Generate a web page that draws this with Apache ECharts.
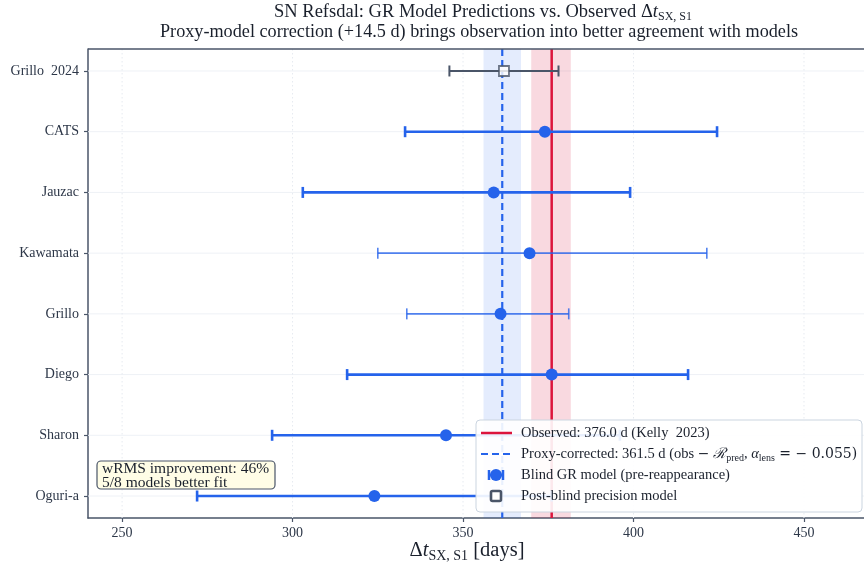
<!DOCTYPE html>
<html><head><meta charset="utf-8">
<script src="https://cdn.jsdelivr.net/npm/echarts@6/dist/echarts.min.js"></script>
<style>html,body{margin:0;padding:0;background:#fff}#c{width:864px;height:567px}</style>
</head><body><div id="c"></div>
<script>
// ---- data (bottom row first) ----
const models      = ['Oguri-a', 'Sharon', 'Diego', 'Grillo', 'Kawamata', 'Jauzac', 'CATS'];
const modelValues = [324, 345, 376, 361, 369.5, 359, 374];
const modelLow    = [272, 294, 316, 333.5, 325, 303, 333];
const modelHigh   = [376, 396, 416, 381, 421.5, 399, 424.5];
const modelThin   = [false, false, false, true, true, false, false];
const postBlindName  = 'Grillo  2024';
const postBlindValue = 362;
const postBlindLow   = 346;
const postBlindHigh  = 378;
const observedValue = 376.0, observedLow = 370.0, observedHigh = 381.6;
const proxyValue = 361.5, proxyLow = 356.0, proxyHigh = 367.0;
const xTicks = [250, 300, 350, 400, 450];
const yLabels = models.concat([postBlindName]);
const yIdx = yLabels.map((_, i) => i);

const FONT = '"Liberation Serif", "DejaVu Serif", serif';
const BLUE = '#2563eb', RED = '#dc143c', SLATE = '#4a5568', INK = '#1a202c';

const chart = echarts.init(document.getElementById('c'), null, {renderer: 'canvas'});

function fullVLine(color, width, dash) {
  return function (params, api) {
    const cs = params.coordSys;
    const p = api.coord([api.value(0), 0]);
    return {type: 'line', shape: {x1: p[0], y1: cs.y, x2: p[0], y2: cs.y + cs.height},
      style: {stroke: color, lineWidth: width, lineDash: dash || null}};
  };
}
function band(color) {
  return function (params, api) {
    const cs = params.coordSys;
    const a = api.coord([api.value(0), 0]);
    const b = api.coord([api.value(1), 0]);
    return {type: 'rect', shape: {x: a[0], y: cs.y, width: b[0] - a[0], height: cs.height},
      style: {fill: color}};
  };
}
function errBar(color, getWidth, getOpacity) {
  return function (params, api) {
    const lo = api.coord([api.value(0), api.value(2)]);
    const hi = api.coord([api.value(1), api.value(2)]);
    const w = getWidth(params.dataIndex), op = getOpacity(params.dataIndex);
    const st = {stroke: color, lineWidth: w, opacity: op};
    return {type: 'group', children: [
      {type: 'line', shape: {x1: lo[0], y1: lo[1], x2: hi[0], y2: hi[1]}, style: st},
      {type: 'line', shape: {x1: lo[0], y1: lo[1] - 5.5, x2: lo[0], y2: lo[1] + 5.5}, style: st},
      {type: 'line', shape: {x1: hi[0], y1: hi[1] - 5.5, x2: hi[0], y2: hi[1] + 5.5}, style: st}
    ]};
  };
}
const subRich = (size, sub, lh) => ({
  a: {fontFamily: FONT, fontSize: size, lineHeight: lh, fill: INK},
  i: {fontFamily: FONT, fontSize: size, fontStyle: 'italic', lineHeight: lh, fill: INK},
  s: {fontFamily: FONT, fontSize: sub, lineHeight: sub + 2, verticalAlign: 'bottom', fill: INK}
});

const option = {
  animation: false,
  backgroundColor: '#ffffff',
  grid: {left: 88, top: 49, bottom: 49, right: 0, show: false},
  xAxis: {
    type: 'value', min: 240, max: 467.6,
    axisLine: {show: true, onZero: false, lineStyle: {color: SLATE, width: 1.5}},
    axisTick: {show: true, length: 4, customValues: xTicks, lineStyle: {color: SLATE, width: 1.2}},
    axisLabel: {customValues: xTicks, margin: 8, fontFamily: FONT, fontSize: 14, color: '#2d3748'},
    splitLine: {show: false}
  },
  yAxis: {
    type: 'value', min: -0.362, max: 7.362,
    axisLine: {show: true, onZero: false, lineStyle: {color: SLATE, width: 1.5}},
    axisTick: {show: true, length: 4, customValues: yIdx, lineStyle: {color: SLATE, width: 1.2}},
    axisLabel: {customValues: yIdx, margin: 9, fontFamily: FONT, fontSize: 14, color: '#2d3748',
      formatter: v => yLabels[Math.round(v)]},
    splitLine: {show: false}
  },
  series: [
    {type: 'custom', z: 1, silent: true, data: yIdx.map(i => [0, i]),
      renderItem: function (params, api) {
        const cs = params.coordSys;
        const p = api.coord([300, api.value(1)]);
        return {type: 'line', shape: {x1: cs.x, y1: p[1], x2: cs.x + cs.width, y2: p[1]},
          style: {stroke: '#eef1f6', lineWidth: 1}};
      }},
    {type: 'custom', z: 1, silent: true, data: xTicks.map(v => [v]),
      renderItem: fullVLine('#e6eaf0', 1, [1.5, 2.5])},
    {type: 'custom', z: 2, silent: true, data: [[proxyLow, proxyHigh]], renderItem: band('rgba(37,99,235,0.12)')},
    {type: 'custom', z: 2, silent: true, data: [[observedLow, observedHigh]], renderItem: band('rgba(220,20,60,0.16)')},
    {type: 'custom', z: 3, silent: true, data: [[proxyValue]], renderItem: fullVLine(BLUE, 2.2, [7, 4])},
    {type: 'custom', z: 3, silent: true, data: [[observedValue]], renderItem: fullVLine(RED, 2.5)},
    {type: 'custom', z: 4, silent: true,
      data: models.map((m, i) => [modelLow[i], modelHigh[i], i]),
      renderItem: errBar(BLUE, i => modelThin[i] ? 1.6 : 2.6, i => modelThin[i] ? 0.8 : 1)},
    {type: 'scatter', z: 5, silent: true, symbol: 'circle', symbolSize: 12,
      itemStyle: {color: BLUE, opacity: 1},
      data: models.map((m, i) => [modelValues[i], i])},
    {type: 'custom', z: 4, silent: true,
      data: [[postBlindLow, postBlindHigh, models.length]],
      renderItem: errBar(SLATE, () => 2, () => 1)},
    {type: 'scatter', z: 5, silent: true, symbol: 'rect', symbolSize: 10,
      itemStyle: {color: '#ffffff', borderColor: SLATE, borderWidth: 1.8},
      data: [[postBlindValue, models.length]]}
  ],
  graphic: [
    // top frame line
    {type: 'line', z: 90, silent: true, shape: {x1: 88, y1: 49, x2: 864, y2: 49}, style: {stroke: SLATE, lineWidth: 1.5}},
    // title
    {type: 'text', x: 483, y: 12, z: 100, silent: true, style: {
      text: '{a|SN Refsdal: GR Model Predictions vs. Observed Δ}{i|t}{s|SX, S1}',
      align: 'center', verticalAlign: 'middle', rich: subRich(18.5, 12, 22)}},
    {type: 'text', x: 479, y: 32, z: 100, silent: true, style: {
      text: 'Proxy-model correction (+14.5 d) brings observation into better agreement with models',
      align: 'center', verticalAlign: 'middle', fontFamily: FONT, fontSize: 18.2, fill: INK}},
    // x axis name
    {type: 'text', x: 467, y: 551, z: 100, silent: true, style: {
      text: '{a|Δ}{i|t}{s|SX, S1}{a| [days]}',
      align: 'center', verticalAlign: 'middle', rich: subRich(20.5, 14, 25)}},
    // stats box
    {type: 'rect', z: 100, silent: true, shape: {x: 97, y: 461, width: 178, height: 28, r: 4},
      style: {fill: 'rgba(255,253,226,0.85)', stroke: SLATE, lineWidth: 1.2}},
    {type: 'text', x: 102, y: 469, z: 101, silent: true, style: {text: 'wRMS improvement: 46%',
      verticalAlign: 'middle', fontFamily: FONT, fontSize: 15.5, fill: INK}},
    {type: 'text', x: 102, y: 483, z: 101, silent: true, style: {text: '5/8 models better fit',
      verticalAlign: 'middle', fontFamily: FONT, fontSize: 15.5, fill: INK}},
    // legend
    {type: 'rect', z: 100, silent: true, shape: {x: 476, y: 420, width: 386, height: 92, r: 4},
      style: {fill: 'rgba(255,255,255,0.9)', stroke: '#cbd5e0', lineWidth: 1}},
    {type: 'line', z: 101, silent: true, shape: {x1: 481, y1: 433, x2: 512, y2: 433}, style: {stroke: RED, lineWidth: 2.5}},
    {type: 'text', x: 521, y: 433, z: 101, silent: true, style: {text: 'Observed: 376.0 d (Kelly  2023)',
      verticalAlign: 'middle', fontFamily: FONT, fontSize: 14.5, fill: INK}},
    {type: 'line', z: 101, silent: true, shape: {x1: 481, y1: 454, x2: 512, y2: 454}, style: {stroke: BLUE, lineWidth: 2.2, lineDash: [7, 4]}},
    {type: 'text', x: 521, y: 454, z: 101, silent: true, style: {
      text: '{a|Proxy-corrected: 361.5 d (obs }{m|−}{i| ℛ}{s|pred}{a|, }{i|α}{s|lens}{m| = − }{m|0.055)}',
      verticalAlign: 'middle',
      rich: Object.assign(subRich(14.5, 10, 18), {m: {fontFamily: '"DejaVu Serif", serif', fontSize: 14, lineHeight: 18, fill: INK}})}},
    {type: 'line', z: 101, silent: true, shape: {x1: 489, y1: 475, x2: 503, y2: 475}, style: {stroke: BLUE, lineWidth: 2.5}},
    {type: 'line', z: 101, silent: true, shape: {x1: 489, y1: 470, x2: 489, y2: 480}, style: {stroke: BLUE, lineWidth: 2.5}},
    {type: 'line', z: 101, silent: true, shape: {x1: 503, y1: 470, x2: 503, y2: 480}, style: {stroke: BLUE, lineWidth: 2.5}},
    {type: 'circle', z: 102, silent: true, shape: {cx: 496, cy: 475, r: 6}, style: {fill: BLUE}},
    {type: 'text', x: 521, y: 475, z: 101, silent: true, style: {text: 'Blind GR model (pre-reappearance)',
      verticalAlign: 'middle', fontFamily: FONT, fontSize: 14.5, fill: INK}},
    {type: 'rect', z: 101, silent: true, shape: {x: 491, y: 491, width: 10, height: 10, r: 1.5},
      style: {fill: '#ffffff', stroke: SLATE, lineWidth: 2.6}},
    {type: 'text', x: 521, y: 496, z: 101, silent: true, style: {text: 'Post-blind precision model',
      verticalAlign: 'middle', fontFamily: FONT, fontSize: 14.5, fill: INK}}
  ]
};
chart.setOption(option);
</script>
</body></html>
